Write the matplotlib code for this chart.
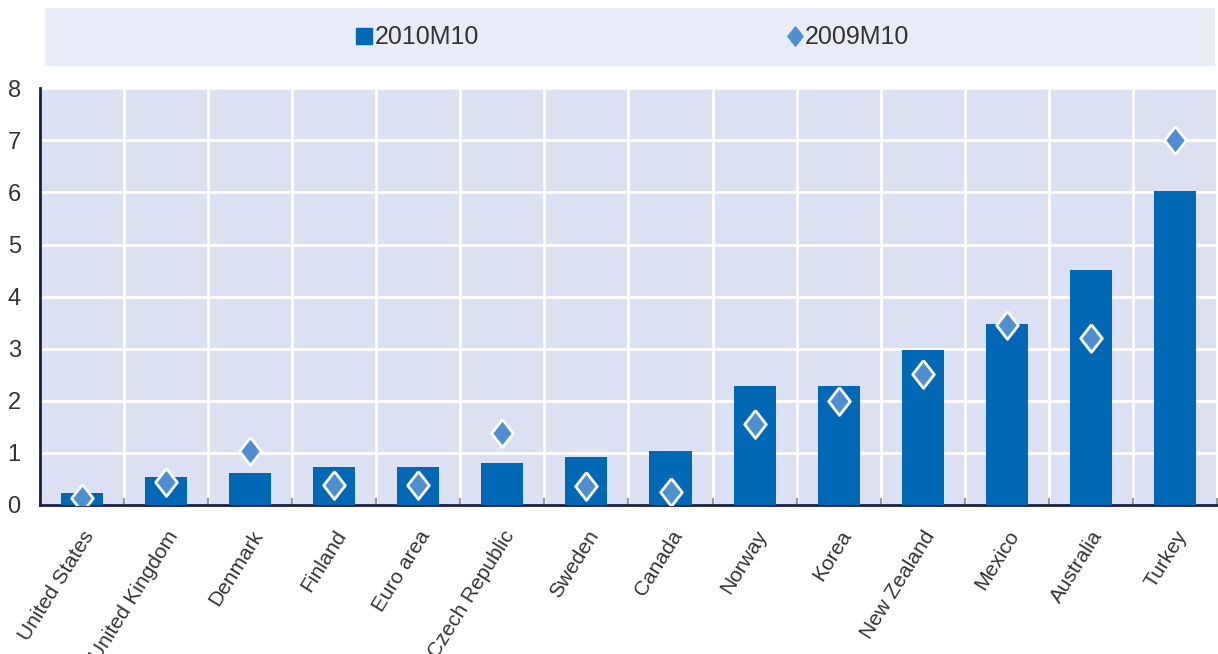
import numpy as np
import matplotlib
matplotlib.use("Agg")
import matplotlib.pyplot as plt
from matplotlib.lines import Line2D
from matplotlib.patches import Rectangle

# -------------------------------------------------
# Data
# -------------------------------------------------

countries = ["United States", "United Kingdom", "Denmark", "Finland", "Euro area",
             "Czech Republic", "Sweden", "Canada", "Norway", "Korea",
             "New Zealand", "Mexico", "Australia", "Turkey"]

values_2010 = [0.22, 0.54, 0.61, 0.73, 0.73, 0.8, 0.92, 1.03, 2.28, 2.28,
               2.97, 3.47, 4.52, 6.03]

values_2009 = [0.13, 0.44, 1.04, 0.38, 0.38, 1.38, 0.36, 0.25, 1.55, 2.0,
               2.51, 3.45, 3.2, 7.0]

series_labels = ["2010M10", "2009M10"]

# -------------------------------------------------
# Style
# -------------------------------------------------

bar_color = "#0068b5"
diamond_color = "#4d8fd1"
plot_bg = "#dbe1f2"
legend_bg = "#e9ecf7"
text_color = "#333333"

plt.rcParams["font.family"] = ["Liberation Sans", "DejaVu Sans"]

diamond = [(0, 1), (0.78, 0), (0, -1), (-0.78, 0), (0, 1)]

fig = plt.figure(figsize=(12.18, 6.54), dpi=100)
ax = fig.add_axes([0.033, 0.228, 0.966, 0.637])

x = np.arange(len(countries))

ax.set_facecolor(plot_bg)
ax.bar(x, values_2010, width=0.5, color=bar_color, zorder=3)
ax.plot(x, values_2009, linestyle="none", marker=diamond, markersize=20,
        markerfacecolor=diamond_color, markeredgecolor="white",
        markeredgewidth=2, zorder=4)

ax.set_xlim(-0.5, len(countries) - 0.5)
ax.set_ylim(0, 8)
ax.set_yticks(range(0, 9))

# gridlines at category boundaries
ax.set_xticks(x)
ax.set_xticks(np.arange(-0.5, len(countries), 1.0), minor=True)
ax.set_xticklabels(countries, rotation=58, ha="right", va="top",
                   rotation_mode="anchor", fontsize=15, color=text_color)
ax.tick_params(axis="x", which="major", length=0, pad=16)
ax.tick_params(axis="x", which="minor", length=5, direction="in",
               color="#999999", width=1.5)
ax.tick_params(axis="y", length=0, labelsize=17, labelcolor=text_color, pad=14)

ax.grid(axis="y", color="white", linewidth=2, zorder=0)
ax.grid(axis="x", which="minor", color="white", linewidth=2, zorder=0)
ax.set_axisbelow(True)

for side in ["top", "right"]:
    ax.spines[side].set_visible(False)
ax.spines["left"].set_color("#1a1f4a")
ax.spines["left"].set_linewidth(2)
ax.spines["bottom"].set_color("#1a1f4a")
ax.spines["bottom"].set_linewidth(2)

# -------------------------------------------------
# Legend band
# -------------------------------------------------

fig.patches.append(Rectangle((45 / 1218, 1 - 66 / 654), 1170 / 1218, 58 / 654,
                             transform=fig.transFigure, facecolor=legend_bg,
                             edgecolor="none", zorder=0))

handles = [
    Line2D([], [], linestyle="none", marker="s", markersize=11,
           markerfacecolor=bar_color, markeredgecolor=bar_color),
    Line2D([], [], linestyle="none", marker=diamond, markersize=14,
           markerfacecolor=diamond_color, markeredgecolor=diamond_color),
]
legend_x = [357 / 1218, 787 / 1218]
for handle, label, lx in zip(handles, series_labels, legend_x):
    fig.legend([handle], [label], loc="center left", bbox_to_anchor=(lx, 0.943),
               frameon=False, fontsize=18, handlelength=0.6,
               handletextpad=0.1, borderpad=0, borderaxespad=0,
               labelcolor=text_color)

fig.savefig("out.png", dpi=100)
